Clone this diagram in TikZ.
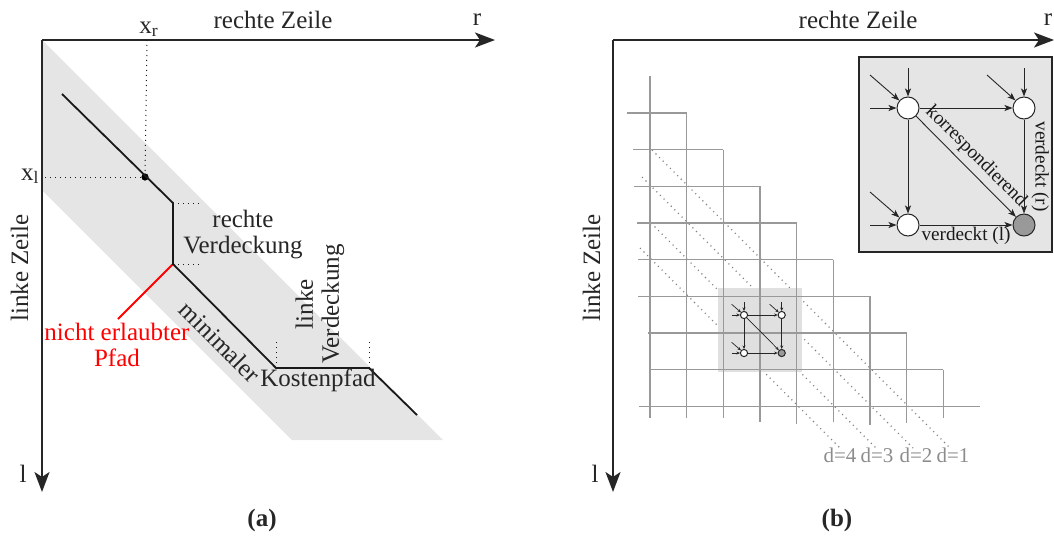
\documentclass[tikz,border=0pt]{standalone}
\usepackage{fontspec}
\setmainfont{Liberation Serif}
\usetikzlibrary{arrows.meta}
\newcommand\mycellgraph[6]{%
  \begin{scope}[shift={(#2,#3)},scale=#4]
    \node[gnode,minimum size=#5] (#1tl) at (0,0) {};
    \node[gnode,minimum size=#5] (#1tr) at (116,0) {};
    \node[gnode,minimum size=#5] (#1bl) at (0,117) {};
    \node[gnode,minimum size=#5,fill=black!40] (#1br) at (116,117) {};
    \coordinate (#1tlu) at (0,-40);
    \coordinate (#1tll) at (-38,0);
    \coordinate (#1tld) at (-38,-33);
    \coordinate (#1tru) at (116,-40);
    \coordinate (#1trd) at (79,-33);
    \coordinate (#1bll) at (-38,117);
    \coordinate (#1bld) at (-38,84);
  \end{scope}
  \draw[#6] (#1tlu) -- (#1tl);
  \draw[#6] (#1tll) -- (#1tl);
  \draw[#6] (#1tld) -- (#1tl);
  \draw[#6] (#1tru) -- (#1tr);
  \draw[#6] (#1trd) -- (#1tr);
  \draw[#6] (#1bll) -- (#1bl);
  \draw[#6] (#1bld) -- (#1bl);
  \draw[#6] (#1tl) -- (#1tr);
  \draw[#6] (#1tl) -- (#1bl);
  \draw[#6] (#1tl) -- (#1br);
  \draw[#6] (#1tr) -- (#1br);
  \draw[#6] (#1bl) -- (#1br);
}
\begin{document}
\begin{tikzpicture}[x=0.5pt,y=-0.5pt,
  axis/.style={line width=1.1pt,draw=black!85,-{Stealth[length=10pt,width=7.5pt,inset=2.5pt]}},
  lbl/.style={font=\fontsize{12.5}{13}\selectfont,inner sep=0pt,text=black!85},
  smalllbl/.style={font=\fontsize{9.6}{11}\selectfont,inner sep=1pt,text=black!90},
  dlbl/.style={font=\fontsize{10.5}{12}\selectfont,inner sep=0pt,text=black!45},
  mainpath/.style={line width=0.9pt,draw=black!90},
  helper/.style={dotted,line width=0.5pt,draw=black!90},
  gridline/.style={draw=black!40,line width=0.7pt},
  diagline/.style={draw=black!50,dotted,line width=0.55pt},
  gnode/.style={circle,draw=black!85,fill=white,line width=0.5pt,inner sep=0pt},
  bigarr/.style={-{Stealth[length=4pt,width=3pt,inset=1pt]},line width=0.45pt,draw=black!85},
  tinyarr/.style={-{Stealth[length=1.7pt,width=1.5pt,inset=0.5pt]},line width=0.35pt,draw=black!85},
]
\useasboundingbox (0,0) rectangle (1054,536);

% ---------------- panel (a) ----------------
\fill[black!10] (42,40) -- (443,440) -- (292,440) -- (42,190) -- cycle;
\coordinate (ao) at (42,40);
\coordinate (ar) at (495,40);
\coordinate (al) at (42,492);
\draw[axis] (ao) -- (ar);
\draw[axis] (ao) -- (al);
\node[lbl,anchor=base] (arl) at (477,25) {r};
\node[lbl,anchor=base] (all) at (23,482) {l};
\node[lbl,anchor=base] (atop) at (273,28) {rechte Zeile};
\node[lbl,anchor=base,rotate=90] (aleft) at (28,268) {linke Zeile};

\coordinate (p0) at (62,94);
\coordinate (p1) at (173,203);
\coordinate (p2) at (173,264);
\coordinate (p3) at (276,368);
\coordinate (p4) at (369,368);
\coordinate (p5) at (417,415);
\node[circle,fill=black,inner sep=0pt,minimum size=3.6pt] (x) at (145,177) {};
\coordinate (xrtop) at (147,40);
\coordinate (xlleft) at (45,177);
\draw[helper] (xrtop) -- (x);
\draw[helper] (xlleft) -- (x);
\node[lbl,anchor=base] (xr) at (149,33) {x\textsubscript{r}};
\node[lbl,anchor=base east] (xl) at (40,180) {x\textsubscript{l}};

\coordinate (h1) at (201,203);
\coordinate (h2) at (201,264);
\coordinate (h3) at (276,340);
\coordinate (h4) at (369,340);
\draw[helper] (p1) -- (h1);
\draw[helper] (p2) -- (h2);
\draw[helper] (p3) -- (h3);
\draw[helper] (p4) -- (h4);

\coordinate (red) at (118,319);
\draw[red,line width=0.9pt] (p2) -- (red);
\draw[mainpath] (p0) -- (p1) -- (p2) -- (p3) -- (p4) -- (p5);

\node[lbl,align=center,text=red] (nep) at (117,345) {nicht erlaubter\\Pfad};
\node[lbl,align=center] (rv) at (243,235) {rechte\\Verdeckung};
\node[lbl,align=center,rotate=90] (lv) at (320,304) {linke\\Verdeckung};
\node[lbl,rotate=-45] (mini) at (220,342) {minimaler};
\node[lbl,anchor=base] (kost) at (318,386) {Kostenpfad};
\node[lbl,font=\fontsize{12.5}{13}\selectfont\bfseries] (capa) at (262,520) {(a)};

% ---------------- panel (b) ----------------
\coordinate (bo) at (613,40);
\coordinate (br) at (1054,40);
\coordinate (bl) at (613,492);
\draw[axis] (bo) -- (br);
\draw[axis] (bo) -- (bl);
\node[lbl,anchor=base] (brl) at (1048,25) {r};
\node[lbl,anchor=base] (bll) at (595,482) {l};
\node[lbl,anchor=base] (btop) at (858,28) {rechte Zeile};
\node[lbl,anchor=base,rotate=90] (bleft) at (600,268) {linke Zeile};

% diagonals
\node[dlbl,anchor=base] (d4) at (840,462) {d=4};
\node[dlbl,anchor=base] (d3) at (877,462) {d=3};
\node[dlbl,anchor=base] (d2) at (916,462) {d=2};
\node[dlbl,anchor=base] (d1) at (953,462) {d=1};
\coordinate (s1) at (652,150);
\coordinate (e1) at (950,448);
\coordinate (s2) at (642,177);
\coordinate (e2) at (913,448);
\coordinate (s3) at (651,223);
\coordinate (e3) at (876,448);
\coordinate (s4) at (640,248);
\coordinate (e4) at (840,448);
\draw[diagline] (s1) -- (e1);
\draw[diagline] (s2) -- (e2);
\draw[diagline] (s3) -- (e3);
\draw[diagline] (s4) -- (e4);

% highlight box
\fill[black!12] (718,288) rectangle (802,372);

% grid
\foreach \k/\B in {0/418,1/418,2/418,3/422,4/424,5/422,6/425,7/423,8/418}
  \draw[gridline] (650+36.65*\k,76.4+36.65*\k) -- (650+36.65*\k,\B);
\foreach \k/\L in {0/627,1/633,2/634,3/637,4/638,5/638,6/648,7/650,8/639}
  \draw[gridline] (\L,113+36.65*\k) -- (686.65+36.65*\k,113+36.65*\k);

% small graph
\mycellgraph{s}{744}{315}{0.325}{3.6pt}{tinyarr}

% inset
\draw[fill=black!10,line width=0.6pt,draw=black!85] (859,57) rectangle (1052,252);
\mycellgraph{g}{908}{108}{1}{11pt}{bigarr}
\path (gtl) -- (gbr) node[smalllbl,midway,rotate=-45,anchor=south,inner sep=2.5pt] (korr) {korrespondierend};
\path (gtr) -- (gbr) node[smalllbl,midway,rotate=-90,anchor=south,inner sep=3.5pt] (vr) {verdeckt (r)};
\path (gbl) -- (gbr) node[smalllbl,midway,anchor=north,inner sep=0.8pt] (vl) {verdeckt (l)};

\node[lbl,font=\fontsize{12.5}{13}\selectfont\bfseries] (capb) at (837,520) {(b)};
\end{tikzpicture}
\end{document}
